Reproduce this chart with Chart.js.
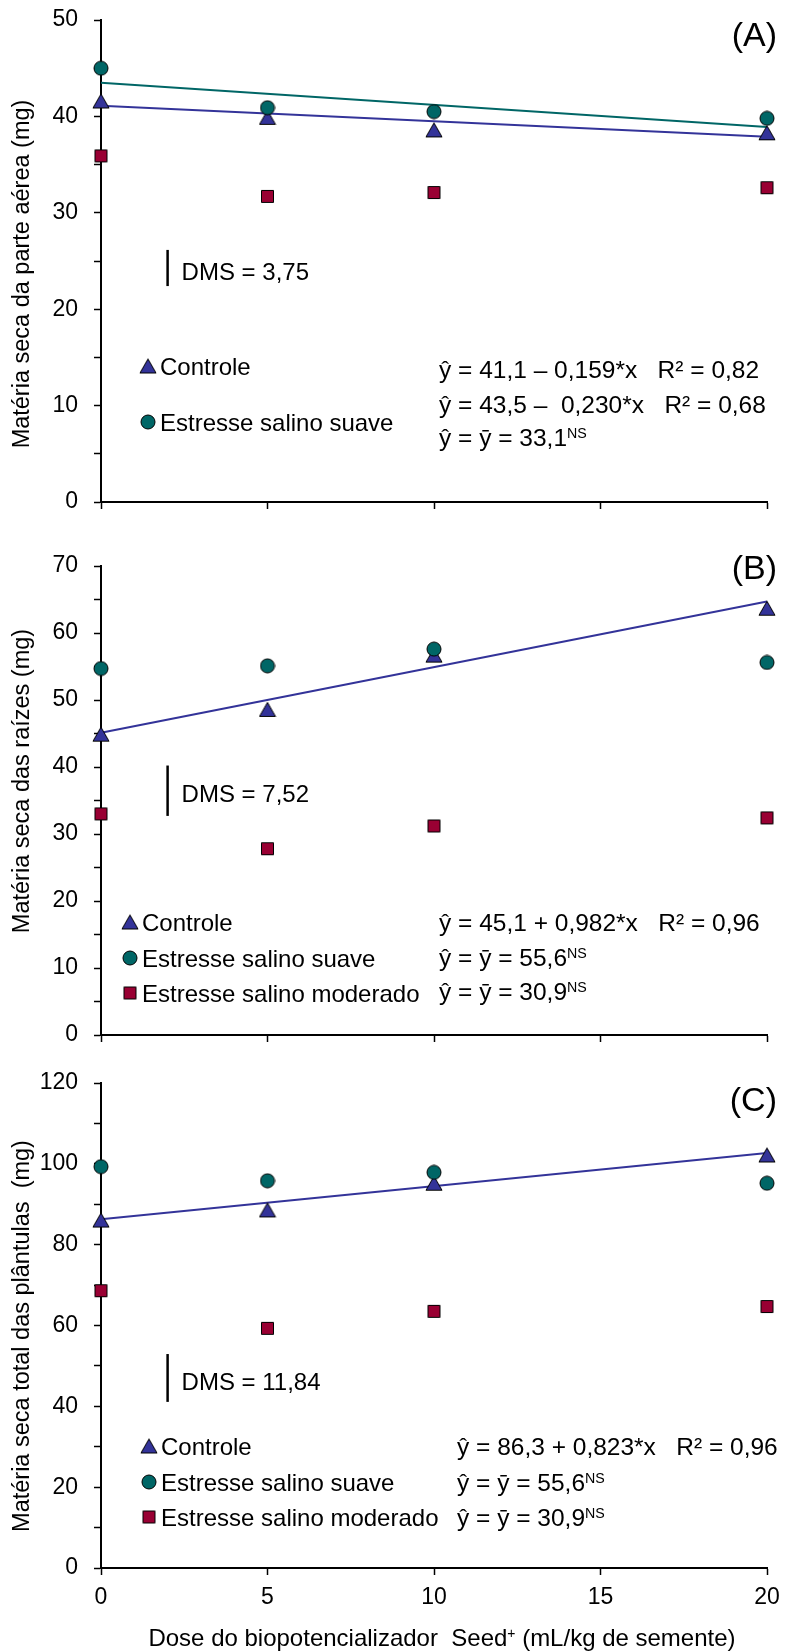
<!DOCTYPE html>
<html>
<head>
<meta charset="utf-8">
<script src="https://cdn.jsdelivr.net/npm/chart.js@4.4.0/dist/chart.umd.min.js"></script>
<style>
body { margin: 0; background: #fff; }
#wrap { position: relative; width: 785px; height: 1651px; }
canvas { position: absolute; left: 0; }
</style>
</head>
<body>
<div id="wrap">
  <canvas id="chartA"></canvas>
  <canvas id="chartB"></canvas>
  <canvas id="chartC"></canvas>
</div>
<script>
// doses of Seed+ (mL/kg)
const doses = [0, 5, 10, 20];
const fitDoses = [0, 20];

// (A) parte aerea
const aControle = [41.6, 39.9, 38.6, 38.3];
const aSuave = [45.0, 40.9, 40.5, 39.8];
const aModerado = [35.9, 31.7, 32.1, 32.6];
const aFitControle = [41.1, 37.9];
const aFitSuave = [43.5, 38.9];

// (B) raizes
const bControle = [44.9, 48.6, 56.7, 63.7];
const bSuave = [54.7, 55.1, 57.6, 55.6];
const bModerado = [33.0, 27.8, 31.2, 32.4];
const bFitControle = [45.1, 64.7];

// (C) total
const cControle = [86.1, 88.6, 95.2, 102.2];
const cSuave = [99.3, 95.8, 97.9, 95.2];
const cModerado = [68.6, 59.3, 63.5, 64.7];
const cFitControle = [86.3, 102.7];

const yMaxes = [50, 70, 120];
const yMinorSteps = [5, 5, 10];
const yLabelSteps = [10, 10, 20];
const xStep = 5;

const dmsValues = [3.75, 7.52, 11.84];
const dmsBases = [22.4, 32.7, 41.1];
const dmsLabels = ['DMS = 3,75', 'DMS = 7,52', 'DMS = 11,84'];
const dmsDose = 2;

const seriesNames = ['Controle', 'Estresse salino suave', 'Estresse salino moderado'];
const yTitles = [
  'Matéria seca da parte aérea (mg)',
  'Matéria seca das raízes (mg)',
  'Matéria seca total das plântulas  (mg)'
];
const panelTags = ['(A)', '(B)', '(C)'];
const xTitle = [['Dose do biopotencializador  Seed'], ['+', true], [' (mL/kg de semente)']];

const eqA = [
  [['ŷ = 41,1 – 0,159*x   R² = 0,82']],
  [['ŷ = 43,5 –  0,230*x   R² = 0,68']],
  [['ŷ = ȳ = 33,1'], ['NS', true]]
];
const eqB = [
  [['ŷ = 45,1 + 0,982*x   R² = 0,96']],
  [['ŷ = ȳ = 55,6'], ['NS', true]],
  [['ŷ = ȳ = 30,9'], ['NS', true]]
];
const eqC = [
  [['ŷ = 86,3 + 0,823*x   R² = 0,96']],
  [['ŷ = ȳ = 55,6'], ['NS', true]],
  [['ŷ = ȳ = 30,9'], ['NS', true]]
];

const BLUE = '#333399', TEAL = '#006666', CRIMSON = '#990033';
const FONT = '"Liberation Sans", Arial, Helvetica, sans-serif';
Chart.defaults.font.family = FONT;
Chart.defaults.color = '#000';

// marker images (centred on their bounding box like the original)
function marker(kind) {
  const c = document.createElement('canvas');
  const g = c.getContext('2d');
  g.lineWidth = 1;
  g.strokeStyle = '#000';
  g.beginPath();
  if (kind === 'tri') {
    c.width = 18; c.height = 17;
    g.moveTo(9, 1.5); g.lineTo(17, 15.5); g.lineTo(1, 15.5); g.closePath();
    g.fillStyle = BLUE;
  } else if (kind === 'circ') {
    c.width = 16; c.height = 16;
    g.arc(8, 8, 7, 0, Math.PI * 2);
    g.fillStyle = TEAL;
  } else {
    c.width = 15; c.height = 15;
    g.rect(1.5, 1.5, 12, 12);
    g.fillStyle = CRIMSON;
  }
  g.fill(); g.stroke();
  return c;
}
const markers = [marker('tri'), marker('circ'), marker('sq')];

function pts(xs, ys) { return xs.map((x, i) => ({ x: x, y: ys[i] })); }

function drawRich(ctx, x, y, parts, size, align) {
  const base = y + size * 0.36;
  const supSize = size * 0.58;
  const w = parts.reduce((s, p) => {
    ctx.font = (p[1] ? supSize : size) + 'px ' + FONT;
    return s + ctx.measureText(p[0]).width;
  }, 0);
  if (align === 'center') x -= w / 2;
  ctx.textAlign = 'left';
  ctx.textBaseline = 'alphabetic';
  parts.forEach(p => {
    ctx.font = (p[1] ? supSize : size) + 'px ' + FONT;
    ctx.fillText(p[0], x, p[1] ? base - size * 0.31 : base);
    x += ctx.measureText(p[0]).width;
  });
}

const layoutSpec = [
  { id: 'chartA', canvasTop: 0, canvasH: 530, areaTop: 20, areaBottom: 502, titleY: 274, tagY: 37,
    legendX: 148, legendY: [366, 422], eqX: 439, eqY: [369, 404, 437] },
  { id: 'chartB', canvasTop: 530, canvasH: 530, areaTop: 566, areaBottom: 1035, titleY: 781, tagY: 570,
    legendX: 130, legendY: [922, 958, 993], eqX: 439, eqY: [922, 957, 991] },
  { id: 'chartC', canvasTop: 1060, canvasH: 591, areaTop: 1083, areaBottom: 1568, titleY: 1336, tagY: 1102,
    legendX: 149, legendY: [1446, 1482, 1517], eqX: 457, eqY: [1446, 1482, 1517] }
];

const panelSeries = [
  { series: [aControle, aSuave, aModerado], fits: [aFitControle, aFitSuave], eq: eqA, legendN: 2 },
  { series: [bControle, bSuave, bModerado], fits: [bFitControle], eq: eqB, legendN: 3 },
  { series: [cControle, cSuave, cModerado], fits: [cFitControle], eq: eqC, legendN: 3 }
];

function makeChart(k) {
  const L = layoutSpec[k], P = panelSeries[k];
  const cv = document.getElementById(L.id);
  cv.width = 785; cv.height = L.canvasH;
  cv.style.top = L.canvasTop + 'px';
  const off = L.canvasTop;
  const isLast = k === 2;

  const datasets = [];
  const orders = [2, 1, 1];
  P.series.forEach((vals, i) => {
    datasets.push({
      label: seriesNames[i], data: pts(doses, vals),
      pointStyle: markers[i], pointRadius: 7, order: orders[i], clip: false
    });
  });
  const fitColors = [BLUE, TEAL];
  P.fits.forEach((f, i) => {
    datasets.push({
      label: 'fit ' + i, data: pts(fitDoses, f), showLine: true,
      borderColor: fitColors[i], borderWidth: 2, pointRadius: 0, order: 5, clip: false
    });
  });

  const panelText = {
    id: 'panelText' + k,
    afterDraw(chart) {
      const ctx = chart.ctx;
      const xs = chart.scales.x, ys = chart.scales.y;
      ctx.save();
      ctx.fillStyle = '#000';
      // y title
      ctx.save();
      ctx.translate(23, L.titleY - off);
      ctx.rotate(-Math.PI / 2);
      ctx.font = '23.5px ' + FONT;
      ctx.textAlign = 'center';
      ctx.textBaseline = 'middle';
      ctx.fillText(yTitles[k], 0, 0);
      ctx.restore();
      // panel tag
      ctx.font = '34px ' + FONT;
      ctx.textAlign = 'right';
      ctx.textBaseline = 'middle';
      ctx.fillText(panelTags[k], 777, L.tagY - off);
      // DMS bar
      const bx = xs.getPixelForValue(dmsDose);
      const y0 = ys.getPixelForValue(dmsBases[k]);
      const y1 = ys.getPixelForValue(dmsBases[k] + dmsValues[k]);
      ctx.strokeStyle = '#000';
      ctx.lineWidth = 2.5;
      ctx.beginPath(); ctx.moveTo(bx, y0); ctx.lineTo(bx, y1); ctx.stroke();
      drawRich(ctx, bx + 14, (y0 + y1) / 2 + 3, [[dmsLabels[k]]], 24);
      // legend
      for (let i = 0; i < P.legendN; i++) {
        const m = markers[i];
        const ly = L.legendY[i] - off;
        ctx.drawImage(m, L.legendX - m.width / 2, ly - m.height / 2);
        ctx.fillStyle = '#000';
        drawRich(ctx, L.legendX + 12, ly, [[seriesNames[i]]], 24);
      }
      // equations
      P.eq.forEach((parts, i) => drawRich(ctx, L.eqX, L.eqY[i] - off, parts, 24.5));
      // x title
      if (isLast) drawRich(ctx, 442, 1637 - off, xTitle, 24, 'center');
      ctx.restore();
    }
  };

  const gridOpts = { drawOnChartArea: false, drawTicks: true, tickLength: 7, tickWidth: 1.5, tickColor: '#000' };
  const borderOpts = { display: true, color: '#000', width: 2 };

  return new Chart(cv, {
    type: 'scatter',
    data: { datasets: datasets },
    options: {
      responsive: false,
      animation: false,
      events: [],
      layout: { autoPadding: false, padding: { left: 0, right: 18, top: L.areaTop - off, bottom: 0 } },
      plugins: { legend: { display: false }, tooltip: { enabled: false } },
      scales: {
        x: {
          type: 'linear', min: 0, max: 20,
          ticks: { stepSize: xStep, display: isLast, font: { size: 23 }, color: '#000', padding: 9 },
          grid: gridOpts, border: borderOpts,
          afterFit: s => {
            s.height = L.canvasH - (L.areaBottom - off);
            s.paddingLeft = 0; s.paddingRight = 0;
          }
        },
        y: {
          min: 0, max: yMaxes[k],
          ticks: {
            stepSize: yMinorSteps[k], font: { size: 23 }, color: '#000', padding: 16,
            callback: v => (v % yLabelSteps[k] === 0 ? String(v) : '')
          },
          grid: gridOpts, border: borderOpts,
          afterFit: s => { s.width = 101; s.paddingTop = 0; s.paddingBottom = 0; }
        }
      }
    },
    plugins: [panelText]
  });
}

[0, 1, 2].forEach(makeChart);
</script>
</body>
</html>
